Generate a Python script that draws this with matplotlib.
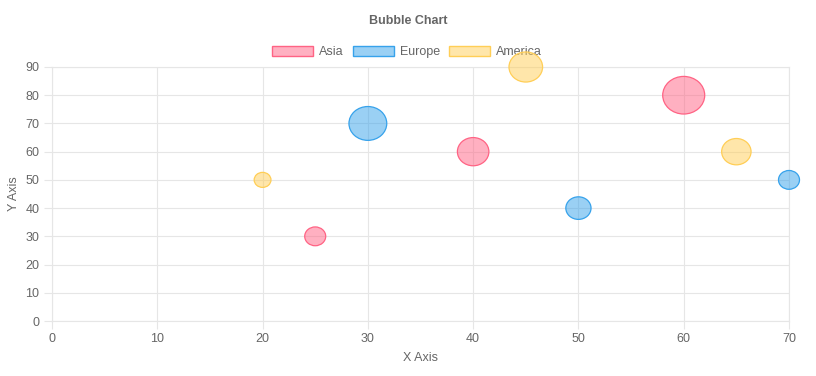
import numpy as np
import matplotlib
matplotlib.use("Agg")
from matplotlib import pyplot as plt
from matplotlib.patches import Patch
from matplotlib.path import Path
from matplotlib.markers import MarkerStyle
from matplotlib.transforms import Affine2D

plt.rcParams['font.family'] = ['Liberation Sans', 'DejaVu Sans']

# data
series = ["Asia", "Europe", "America"]
asia_x = [25, 40, 60]
asia_y = [30, 60, 80]
asia_r = [10, 15, 20]
europe_x = [30, 50, 70]
europe_y = [70, 40, 50]
europe_r = [18, 12, 10]
america_x = [20, 45, 65]
america_y = [50, 90, 60]
america_r = [8, 16, 14]

fills = [(1, 99/255, 132/255, 0.5), (54/255, 162/255, 235/255, 0.5), (1, 206/255, 86/255, 0.5)]
edges = [(1, 99/255, 132/255), (54/255, 162/255, 235/255), (1, 206/255, 86/255)]
grey = "#666666"
gridc = "#e6e6e6"

# the bubbles are a bit wider than tall in the reference
sx, sy = 1.05, 0.94
ell = Path.unit_circle().transformed(Affine2D().scale(sx, sy))
marker = MarkerStyle(ell)

fig = plt.figure(figsize=(8.16, 3.76), dpi=100)
ax = fig.add_axes([52/816, 1 - 321/376, (789 - 52)/816, (321 - 67)/376])
ax.set_facecolor("none")

data = [(asia_x, asia_y, asia_r), (europe_x, europe_y, europe_r), (america_x, america_y, america_r)]
for (xs, ys, rs), fc, ec in zip(data, fills, edges):
    # marker normalised to max extent sx -> diameter in points = 2*r*sx px
    d_pt = np.array(rs) * 2 * sx * 0.72
    ax.scatter(xs, ys, s=d_pt ** 2, marker=marker, facecolor=fc, edgecolor=ec,
               linewidth=0.9, clip_on=False, zorder=3)

ax.set_xlim(0, 70)
ax.set_ylim(0, 90)
ax.set_xticks(np.arange(0, 71, 10))
ax.set_yticks(np.arange(0, 91, 10))
ax.grid(True, color=gridc, linewidth=0.8)
ax.set_axisbelow(True)
for s in ax.spines.values():
    s.set_color(gridc)
    s.set_linewidth(0.8)
ax.tick_params(colors=gridc, labelcolor=grey, labelsize=9, length=6, width=0.8, pad=3)

ax.set_xlabel("X Axis", color=grey, fontsize=9, labelpad=5)
ax.set_ylabel("Y Axis", color=grey, fontsize=9, labelpad=4)

fig.text(408/816, 1 - 21/376, "Bubble Chart", ha="center", va="center",
         fontsize=9, fontweight="bold", color=grey)

handles = [Patch(facecolor=fc, edgecolor=ec, linewidth=1.0) for fc, ec in zip(fills, edges)]
leg = fig.legend(handles, series, loc="center", bbox_to_anchor=(407/816, 1 - 52/376), ncol=3,
                 frameon=False, fontsize=9, handlelength=3.3, handleheight=0.95,
                 handletextpad=0.5, columnspacing=0.7, borderpad=0, labelcolor=grey)
leg.set_zorder(-1)

fig.savefig("out.png", dpi=100)
